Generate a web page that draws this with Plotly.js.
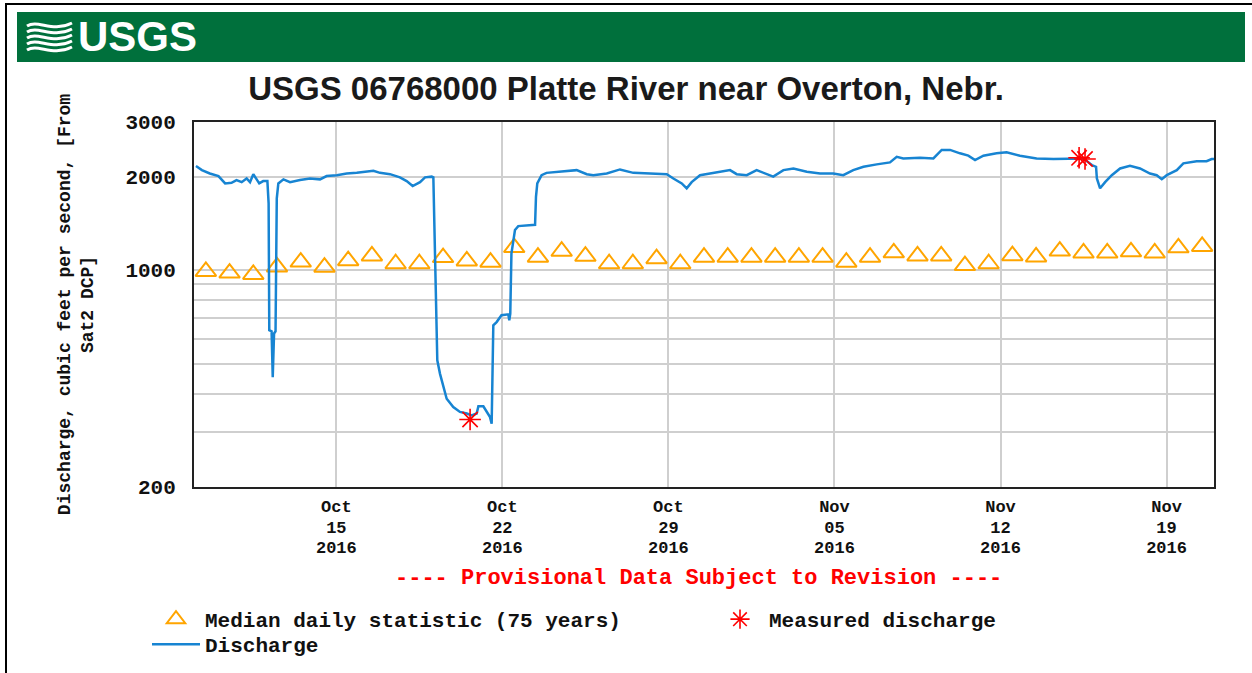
<!DOCTYPE html>
<html>
<head>
<meta charset="utf-8">
<script src="https://cdn.plot.ly/plotly-3.0.1.min.js"></script>
<style>html,body{margin:0;padding:0;background:#fff;}#chart{width:1252px;height:673px;}</style>
</head>
<body>
<div id="chart"></div>
<script>
// ---------------- DATA ----------------
const chartTitle = 'USGS 06768000 Platte River near Overton, Nebr.';
const yAxisTitle = 'Discharge, cubic feet per second, [From<br>Sat2 DCP]';
const provisionalNote = '---- Provisional Data Subject to Revision ----';

// Discharge (instantaneous)
const dischargeTimes = [
 '2016-10-09 02:00','2016-10-09 08:00','2016-10-09 16:00','2016-10-10 00:45','2016-10-10 07:30',
 '2016-10-10 14:00','2016-10-10 19:00','2016-10-11 00:15','2016-10-11 05:15','2016-10-11 08:40',
 '2016-10-11 12:00','2016-10-11 15:30','2016-10-11 18:00','2016-10-11 22:00','2016-10-12 02:15',
 '2016-10-12 03:30','2016-10-12 04:10','2016-10-12 06:30','2016-10-12 07:40','2016-10-12 09:00',
 '2016-10-12 10:30','2016-10-12 11:45','2016-10-12 13:20','2016-10-12 18:30','2016-10-13 01:10',
 '2016-10-13 11:15','2016-10-13 21:20','2016-10-14 07:30','2016-10-14 14:10','2016-10-15 00:30',
 '2016-10-15 10:30','2016-10-15 20:40','2016-10-16 13:30','2016-10-16 20:10','2016-10-17 06:20',
 '2016-10-17 16:20','2016-10-17 23:10','2016-10-18 05:15','2016-10-18 12:40','2016-10-18 17:45',
 '2016-10-19 00:30','2016-10-19 02:10','2016-10-19 02:50','2016-10-19 04:50','2016-10-19 06:10',
 '2016-10-19 08:55','2016-10-19 12:15','2016-10-19 15:40','2016-10-19 22:20','2016-10-20 05:05',
 '2016-10-20 12:00','2016-10-20 17:00','2016-10-20 22:00','2016-10-20 23:45','2016-10-21 04:45',
 '2016-10-21 08:10','2016-10-21 11:30','2016-10-21 13:10','2016-10-21 14:50','2016-10-21 18:10',
 '2016-10-21 23:05','2016-10-22 06:00','2016-10-22 07:00','2016-10-22 08:00','2016-10-22 09:10',
 '2016-10-22 12:45','2016-10-22 16:05','2016-10-23 09:05','2016-10-23 10:00','2016-10-23 11:20',
 '2016-10-23 15:40','2016-10-23 20:40','2016-10-24 10:20','2016-10-25 03:10','2016-10-25 13:25',
 '2016-10-25 20:00','2016-10-26 09:35','2016-10-26 23:00','2016-10-27 12:30','2016-10-28 08:50',
 '2016-10-28 22:20','2016-10-29 05:00','2016-10-29 13:30','2016-10-29 18:30','2016-10-29 23:30',
 '2016-10-30 08:00','2016-10-30 21:25','2016-10-31 14:20','2016-10-31 21:05','2016-11-01 07:15',
 '2016-11-01 17:15','2016-11-02 03:20','2016-11-02 10:05','2016-11-02 20:20','2016-11-03 06:30',
 '2016-11-03 20:00','2016-11-04 09:25','2016-11-04 22:50','2016-11-05 08:55','2016-11-05 19:00',
 '2016-11-06 05:20','2016-11-06 18:45','2016-11-07 08:10','2016-11-07 15:00','2016-11-07 21:40',
 '2016-11-08 14:35','2016-11-09 04:05','2016-11-09 12:30','2016-11-09 21:00','2016-11-10 07:00',
 '2016-11-10 15:25','2016-11-10 22:15','2016-11-11 06:40','2016-11-11 20:00','2016-11-12 06:10',
 '2016-11-12 19:40','2016-11-13 12:30','2016-11-14 05:30','2016-11-14 19:00','2016-11-15 11:50',
 '2016-11-15 20:25','2016-11-16 00:40','2016-11-16 01:30','2016-11-16 04:45','2016-11-16 09:50',
 '2016-11-16 16:35','2016-11-17 01:00','2016-11-17 11:00','2016-11-17 21:10','2016-11-18 07:15',
 '2016-11-18 14:00','2016-11-18 19:10','2016-11-19 00:15','2016-11-19 10:20','2016-11-19 17:00',
 '2016-11-20 06:30','2016-11-20 16:30','2016-11-20 21:40','2016-11-21 00:00'
];
const dischargeValues = [
 2163,2099,2047,2009,1902,
 1910,1950,1920,1973,1920,
 2037,1960,1902,1935,1935,
 1640,640,635,452,625,
 635,1703,1902,1960,1920,
 1950,1973,1960,2009,2022,
 2047,2057,2090,2057,2037,
 1990,1935,1866,1920,1990,
 2000,1990,1640,761,512,
 463,420,385,362,349,
 345,340,345,364,364,
 349,336,320,664,680,
 715,720,689,724,1130,
 1346,1386,1400,1722,1902,
 2022,2057,2075,2099,2037,
 2022,2047,2110,2057,2047,
 2037,1973,1902,1834,1920,
 2022,2057,2099,2037,2022,
 2099,2037,2000,2099,2125,
 2075,2047,2047,2022,2099,
 2152,2191,2223,2318,2290,
 2301,2290,2439,2439,2378,
 2337,2261,2337,2378,2395,
 2337,2290,2280,2290,2290,
 2180,2152,1973,1834,1920,
 2022,2125,2168,2125,2047,
 2022,1963,2022,2099,2207,
 2243,2243,2280,2280
];

// Median daily statistic (75 years), one per day at noon
const medianDates = [
 '2016-10-09 12:00','2016-10-10 12:00','2016-10-11 12:00','2016-10-12 12:00','2016-10-13 12:00',
 '2016-10-14 12:00','2016-10-15 12:00','2016-10-16 12:00','2016-10-17 12:00','2016-10-18 12:00',
 '2016-10-19 12:00','2016-10-20 12:00','2016-10-21 12:00','2016-10-22 12:00','2016-10-23 12:00',
 '2016-10-24 12:00','2016-10-25 12:00','2016-10-26 12:00','2016-10-27 12:00','2016-10-28 12:00',
 '2016-10-29 12:00','2016-10-30 12:00','2016-10-31 12:00','2016-11-01 12:00','2016-11-02 12:00',
 '2016-11-03 12:00','2016-11-04 12:00','2016-11-05 12:00','2016-11-06 12:00','2016-11-07 12:00',
 '2016-11-08 12:00','2016-11-09 12:00','2016-11-10 12:00','2016-11-11 12:00','2016-11-12 12:00',
 '2016-11-13 12:00','2016-11-14 12:00','2016-11-15 12:00','2016-11-16 12:00','2016-11-17 12:00',
 '2016-11-18 12:00','2016-11-19 12:00','2016-11-20 12:00'
];
const medianValues = [
 990,978,968,1024,1061,1022,1072,1111,1048,1048,
 1097,1070,1060,1182,1100,1150,1108,1048,1048,1088,
 1048,1100,1100,1100,1100,1100,1100,1060,1100,1137,
 1111,1111,1034,1048,1113,1102,1151,1135,1135,1145,
 1135,1180,1192
];

// Measured discharge (field measurements)
const measuredTimes = ['2016-10-20 15:20','2016-11-15 07:30','2016-11-15 13:30'];
const measuredValues = [330, 2300, 2280];

// Axis ticks
const xRange = ['2016-10-09 00:00','2016-11-21 00:00'];
const xTickVals = ['2016-10-15','2016-10-22','2016-10-29','2016-11-05','2016-11-12','2016-11-19'];
const xTickMonth = ['Oct','Oct','Oct','Nov','Nov','Nov'];
const xTickDay = ['15','22','29','05','12','19'];
const xTickYear = ['2016','2016','2016','2016','2016','2016'];
const yTickVals = [200,300,400,500,600,700,800,900,1000,2000,3000];
const yTickText = ['200','','','','','','','','1000','2000','3000'];
const yMin = 200, yMax = 3000;

// ---------------- STYLE / LAYOUT ----------------
const W = 1252, H = 673;
const M = {l:194, r:38, t:122, b:186};
const pw = W - M.l - M.r, ph = H - M.t - M.b;
const px = x => (x - M.l) / pw;          // pixel -> paper x (decoration only)
const py = y => (H - M.b - y) / ph;      // pixel -> paper y (decoration only)

const monoFont = 'Liberation Mono, DejaVu Sans Mono, monospace';
const yTickFont = {family: monoFont, size: 21, color: '#111', weight: 'bold'};
const xTickFont = {family: monoFont, size: 17, color: '#111', weight: 'bold'};

const traces = [
  {
    name: 'Median daily statistic (75 years)',
    x: medianDates, y: medianValues,
    type: 'scatter', mode: 'markers',
    marker: {symbol: 'triangle-up-open', size: 18, color: '#ffa500', line: {width: 2, color: '#ffa500'}},
    legend: 'legend', hoverinfo: 'x+y'
  },
  {
    name: 'Discharge',
    x: dischargeTimes, y: dischargeValues,
    type: 'scatter', mode: 'lines',
    line: {color: '#1784d2', width: 2.5},
    legend: 'legend2', hoverinfo: 'x+y'
  },
  {
    name: 'Measured discharge',
    x: measuredTimes, y: measuredValues,
    type: 'scatter', mode: 'markers',
    marker: {symbol: 'asterisk-open', size: 18, color: '#ff0000', line: {width: 1.6, color: '#ff0000'}},
    legend: 'legend', hoverinfo: 'x+y'
  },
  {x: [], y: [], xaxis: 'x2', type: 'scatter', mode: 'lines', showlegend: false, hoverinfo: 'skip'},
  {x: [], y: [], xaxis: 'x3', type: 'scatter', mode: 'lines', showlegend: false, hoverinfo: 'skip'}
];

const baseX = {
  type: 'date', range: xRange, tickmode: 'array', tickvals: xTickVals,
  ticks: '', tickfont: xTickFont, fixedrange: true, zeroline: false
};

function wave(y0) {
  return `M ${px(27)},${py(y0)} C ${px(38)},${py(y0 - 7)} ${px(52)},${py(y0 + 7)} ${px(72)},${py(y0 - 3)}`;
}

const shapes = [
  // outer frame
  {type: 'line', xref: 'paper', yref: 'paper', x0: px(5), x1: px(1252), y0: py(4), y1: py(4), line: {color: '#000', width: 2}},
  {type: 'line', xref: 'paper', yref: 'paper', x0: px(6), x1: px(6), y0: py(4), y1: py(673), line: {color: '#000', width: 2}},
  // green banner
  {type: 'rect', xref: 'paper', yref: 'paper', x0: px(17), x1: px(1245), y0: py(12), y1: py(62), fillcolor: '#00703c', line: {width: 0}, layer: 'below'},
];
[26, 32, 38, 44, 50].forEach(y => shapes.push({type: 'path', xref: 'paper', yref: 'paper', path: wave(y), line: {color: '#ffffff', width: 3}}));

const layout = {
  width: W, height: H,
  margin: {l: M.l, r: M.r, t: M.t, b: M.b, autoexpand: false},
  paper_bgcolor: '#ffffff', plot_bgcolor: '#ffffff',
  title: {
    text: chartTitle, xref: 'container', x: 0.5, xanchor: 'center',
    yref: 'container', y: 1 - 88 / H, yanchor: 'middle',
    font: {family: 'Liberation Sans, Arial, sans-serif', size: 33, color: '#1a1a1a', weight: 'bold'}
  },
  xaxis: Object.assign({}, baseX, {
    ticktext: xTickMonth, showgrid: true, gridcolor: '#cfcfcf', gridwidth: 2,
    showline: true, mirror: true, linecolor: '#222', linewidth: 2, ticklabelstandoff: 3
  }),
  xaxis2: Object.assign({}, baseX, {
    ticktext: xTickDay, overlaying: 'x', anchor: 'y', side: 'bottom', showgrid: false, showline: false, ticklabelstandoff: 28
  }),
  xaxis3: Object.assign({}, baseX, {
    ticktext: xTickYear, overlaying: 'x', anchor: 'y', side: 'bottom', showgrid: false, showline: false, ticklabelstandoff: 48
  }),
  yaxis: {
    type: 'log', range: [Math.log10(yMin), Math.log10(yMax)],
    tickmode: 'array', tickvals: yTickVals, ticktext: yTickText,
    showgrid: true, gridcolor: '#cfcfcf', gridwidth: 2,
    showline: true, mirror: true, linecolor: '#222', linewidth: 2,
    ticks: '', tickfont: yTickFont, ticklabelstandoff: 12, zeroline: false, fixedrange: true,
    title: {text: yAxisTitle, font: {family: monoFont, size: 18, color: '#111', weight: 'bold'}, standoff: 27}
  },
  legend: {
    orientation: 'h', xref: 'paper', yref: 'paper', x: px(147), xanchor: 'left', y: py(599), yanchor: 'top',
    font: {family: monoFont, size: 21, color: '#111', weight: 'bold'},
    itemwidth: 48, entrywidth: 501, entrywidthmode: 'pixels', bgcolor: 'rgba(0,0,0,0)', traceorder: 'normal'
  },
  legend2: {
    orientation: 'h', xref: 'paper', yref: 'paper', x: px(147), xanchor: 'left', y: py(624), yanchor: 'top',
    font: {family: monoFont, size: 21, color: '#111', weight: 'bold'},
    itemwidth: 48, bgcolor: 'rgba(0,0,0,0)'
  },
  annotations: [
    {text: provisionalNote, xref: 'paper', yref: 'paper', x: px(698), y: py(578), xanchor: 'center', yanchor: 'middle',
     showarrow: false, font: {family: monoFont, size: 22, color: '#ff0000', weight: 'bold'}},
    {text: 'USGS', xref: 'paper', yref: 'paper', x: px(137), y: py(37), xanchor: 'center', yanchor: 'middle',
     showarrow: false, font: {family: 'Liberation Sans, Arial, sans-serif', size: 42, color: '#ffffff', weight: 'bold'}}
  ],
  shapes: shapes,
  showlegend: true
};

Plotly.newPlot('chart', traces, layout, {displayModeBar: false, staticPlot: true});
</script>
</body>
</html>
